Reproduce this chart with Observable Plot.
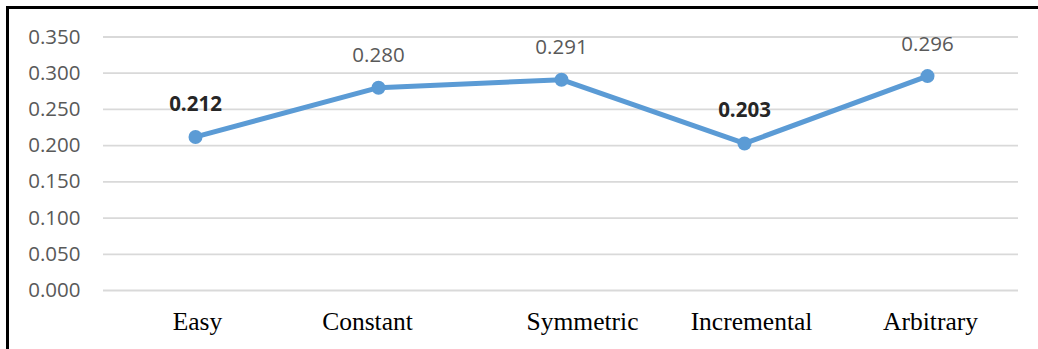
<!DOCTYPE html>
<html>
<head>
<meta charset="utf-8">
<script src="https://cdn.jsdelivr.net/npm/d3@7"></script>
<script src="https://cdn.jsdelivr.net/npm/@observablehq/plot@0.6"></script>
<style>
  html, body { margin: 0; padding: 0; background: #fff; }
  #wrap { position: relative; width: 1038px; height: 349px; overflow: hidden; }
  .frame-top { position: absolute; left: 6px; top: 6px; width: 1032px; height: 3px; background: #000; }
  .frame-left { position: absolute; left: 6px; top: 6px; width: 3px; height: 343px; background: #000; }
</style>
</head>
<body>
<div id="wrap"><div class="frame-top"></div><div class="frame-left"></div></div>
<script>
// Data
const categories = ["Easy", "Constant", "Symmetric", "Incremental", "Arbitrary"];
const values = [0.212, 0.280, 0.291, 0.203, 0.296];
const emphasized = ["Easy", "Incremental"];
const yTicks = [0, 0.05, 0.10, 0.15, 0.20, 0.25, 0.30, 0.35];

// Layout nudges for category labels (px)
const labelNudge = {Easy: 2, Constant: -11, Symmetric: 21, Incremental: 7, Arbitrary: 3};

const rows = categories.map((c, i) => ({category: c, value: values[i], bold: emphasized.includes(c)}));

const sans = "'Open Sans', 'Liberation Sans', sans-serif";
const serif = "'Liberation Serif', 'DejaVu Serif', serif";

const categoryLabelMarks = categories.map(c =>
  Plot.text([c], {
    x: d => d, frameAnchor: "bottom", lineAnchor: "middle", dy: 31,
    dx: labelNudge[c],
    text: d => d,
    fontFamily: serif, fontSize: 25.5, fill: "#000",
    textAnchor: "middle"
  })
);

const chart = Plot.plot({
  width: 1038,
  height: 349,
  marginLeft: 103,
  marginRight: 20,
  marginTop: 36.5,
  marginBottom: 59,
  style: {background: "transparent", overflow: "visible"},
  x: {type: "point", domain: categories, padding: 0.5, axis: null},
  y: {domain: [0, 0.35], ticks: yTicks, axis: null},
  marks: [
    Plot.gridY(yTicks, {stroke: "#d9d9d9", strokeOpacity: 1, strokeWidth: 1.8}),
    Plot.axisY({
      ticks: yTicks, tickSize: 0, tickPadding: 23, tickFormat: d3.format(".3f"),
      fontFamily: sans, fontSize: 20.5, color: "#595959", label: null
    }),
    Plot.line(rows, {x: "category", y: "value", stroke: "#5b9bd5", strokeWidth: 5, strokeLinejoin: "round"}),
    Plot.dot(rows, {x: "category", y: "value", r: 7, fill: "#5b9bd5", stroke: "none"}),
    Plot.text(rows.filter(d => !d.bold), {
      x: "category", y: "value", text: d => d3.format(".3f")(d.value),
      dy: -32, lineAnchor: "middle", fontFamily: sans, fontSize: 20.5, fill: "#595959"
    }),
    Plot.text(rows.filter(d => d.bold), {
      x: "category", y: "value", text: d => d3.format(".3f")(d.value),
      dy: -33, lineAnchor: "middle", fontFamily: sans, fontSize: 20.5, fontWeight: "bold", fill: "#262626"
    }),
    ...categoryLabelMarks
  ]
});

document.getElementById("wrap").prepend(chart);
</script>
</body>
</html>
